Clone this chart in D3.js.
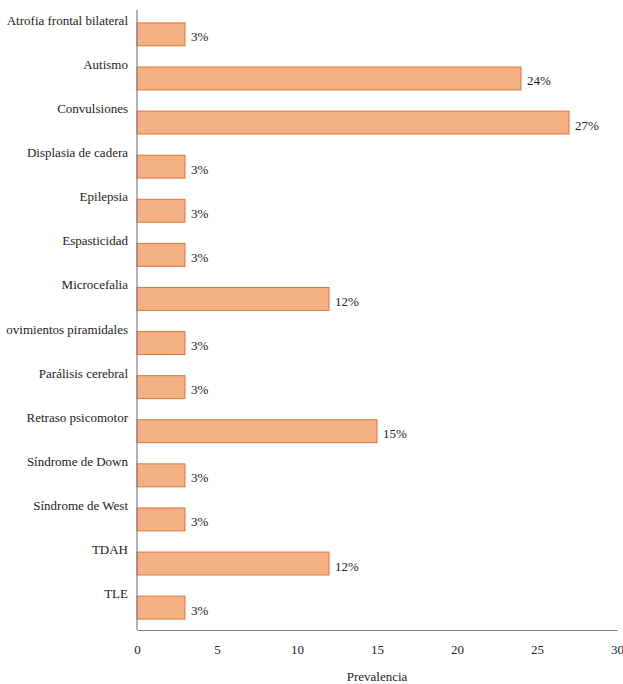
<!DOCTYPE html>
<html>
<head>
<meta charset="utf-8">
<script src="https://cdn.jsdelivr.net/npm/d3@7"></script>
<style>
  body { margin: 0; background: #fff; }
  svg text { font-family: "Liberation Serif", "Times New Roman", Times, serif !important; fill: #222; }
</style>
</head>
<body>
<div id="chart"></div>
<script>
// categories and values
const categories = [
  "Atrofia frontal bilateral", "Autismo", "Convulsiones", "Displasia de cadera",
  "Epilepsia", "Espasticidad", "Microcefalia", "ovimientos piramidales",
  "Parálisis cerebral", "Retraso psicomotor", "Síndrome de Down",
  "Síndrome de West", "TDAH", "TLE"
];
const prevalence = [3, 24, 27, 3, 3, 3, 12, 3, 3, 15, 3, 3, 12, 3];
const xTicks = [0, 5, 10, 15, 20, 25, 30];
const xTitle = "Prevalencia";

const width = 623;
const height = 684;
const marginTop = 10;
const marginRight = 6;
const marginBottom = 54;
const marginLeft = 137;
const serif = "'Liberation Serif', 'Times New Roman', serif";

const data = categories.map((c, i) => ({cat: c, val: prevalence[i]}));

const svg = d3.select("#chart").append("svg")
  .attr("width", width)
  .attr("height", height)
  .attr("font-family", serif);

const x = d3.scaleLinear()
  .domain([0, 30])
  .range([marginLeft, width - marginRight]);

const y = d3.scaleBand()
  .domain(categories)
  .range([marginTop, height - marginBottom])
  .paddingInner(0.48)
  .paddingOuter(0.27);

// bars
svg.selectAll("rect.bar")
  .data(data)
  .enter().append("rect")
    .attr("class", "bar")
    .attr("x", x(0))
    .attr("y", d => y(d.cat) + 1)
    .attr("width", d => x(d.val) - x(0))
    .attr("height", y.bandwidth())
    .attr("fill", "#f4b183")
    .attr("stroke", "#d9773a")
    .attr("stroke-width", 1);

// value labels
svg.selectAll("text.val")
  .data(data)
  .enter().append("text")
    .attr("class", "val")
    .attr("x", d => x(d.val) + 6)
    .attr("y", d => y(d.cat) + y.bandwidth() / 2 + 8)
    .attr("font-size", 13)
    .style("font-family", serif)
    .text(d => d.val + "%");

// category labels, sitting above their bars
svg.selectAll("text.cat")
  .data(data)
  .enter().append("text")
    .attr("class", "cat")
    .attr("x", marginLeft - 9)
    .attr("y", d => y(d.cat) + 3)
    .attr("text-anchor", "end")
    .attr("font-size", 13)
    .style("font-family", serif)
    .text(d => d.cat);

// axes
const xAxis = svg.append("g")
  .attr("class", "xAxis")
  .attr("transform", `translate(0,${height - marginBottom})`)
  .call(d3.axisBottom(x).tickValues(xTicks).tickSize(0).tickPadding(15));
xAxis.attr("font-family", serif);
xAxis.select(".domain").attr("stroke", "#7f7f7f").attr("stroke-width", 1.2);
xAxis.selectAll("text")
  .attr("font-size", 13)
  .style("font-family", serif)
  .attr("fill", "#222");

svg.append("line")
  .attr("x1", marginLeft).attr("x2", marginLeft)
  .attr("y1", marginTop).attr("y2", height - marginBottom)
  .attr("stroke", "#7f7f7f")
  .attr("stroke-width", 1.2);

svg.append("text")
  .attr("x", (x(0) + x(30)) / 2)
  .attr("y", height - 3)
  .attr("text-anchor", "middle")
  .attr("font-size", 13)
  .style("font-family", serif)
  .text(xTitle);
</script>
</body>
</html>
